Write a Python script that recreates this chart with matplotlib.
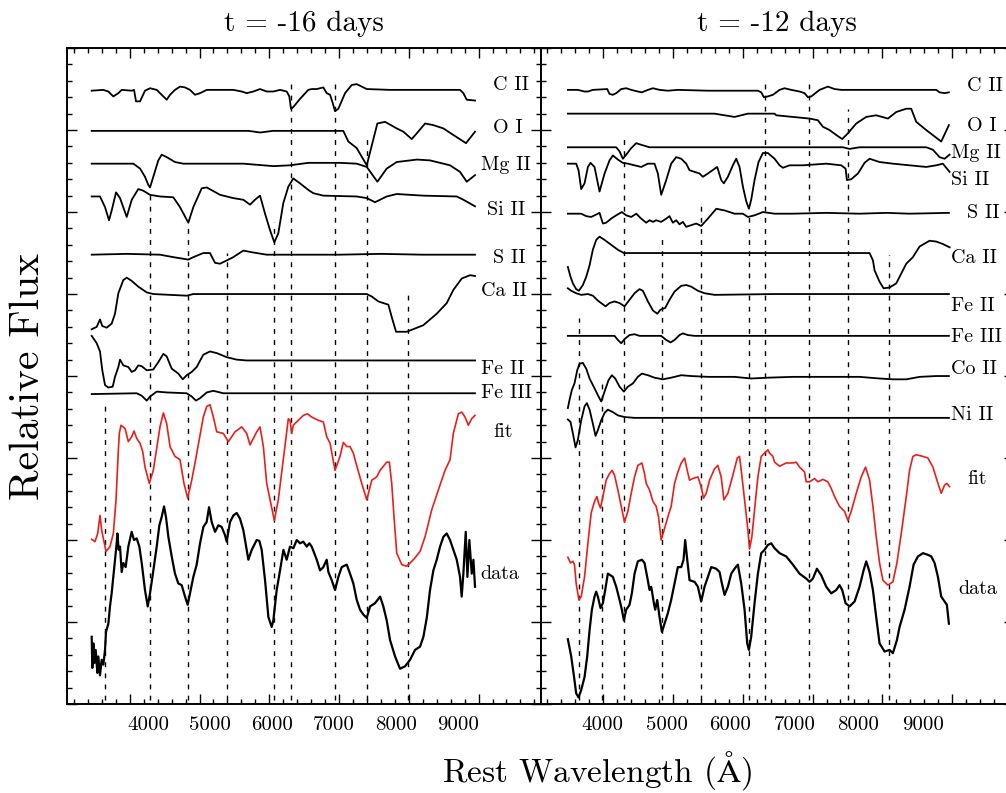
import numpy as np
import matplotlib.pyplot as plt
from matplotlib.ticker import MultipleLocator

plt.rcParams['font.family'] = ['cmr10', 'DejaVu Serif']
plt.rcParams['mathtext.fontset'] = 'cm'
plt.rcParams['axes.formatter.use_mathtext'] = True

# ---- t = -16 days : (rest wavelength [A], relative flux) ----
cii_16 = [(3454, 7.48), (3620, 7.49), (3692, 7.47), (3764, 7.41), (3836, 7.45), (3884, 7.49), (4028, 7.48),
          (4061, 7.49), (4089, 7.35), (4147, 7.35), (4218, 7.48), (4290, 7.51), (4386, 7.49), (4433, 7.45),
          (4529, 7.37), (4577, 7.43), (4648, 7.49), (4720, 7.53), (4792, 7.52), (4863, 7.49), (4935, 7.43),
          (5007, 7.45), (5103, 7.49), (5294, 7.49), (5484, 7.49), (5605, 7.47), (5676, 7.45), (5771, 7.47),
          (5867, 7.50), (5963, 7.47), (6058, 7.47), (6154, 7.49), (6250, 7.47), (6287, 7.41), (6311, 7.26),
          (6344, 7.28), (6440, 7.38), (6559, 7.49), (6608, 7.50), (6680, 7.50), (6775, 7.52), (6823, 7.45),
          (6871, 7.43), (6909, 7.33), (6942, 7.23), (6990, 7.26), (7086, 7.45), (7182, 7.55), (7253, 7.56),
          (7397, 7.50), (7731, 7.49), (8208, 7.49), (8734, 7.49), (8782, 7.45), (8830, 7.37), (8949, 7.36)]
oi_16 = [(3454, 6.99), (5700, 6.99), (5870, 6.97), (6050, 6.99), (7061, 6.99), (7133, 6.86), (7253, 6.78),
         (7397, 6.57), (7549, 7.08), (7659, 7.10), (7827, 7.02), (7922, 6.98), (8042, 6.89), (8114, 6.96),
         (8233, 7.08), (8352, 7.06), (8495, 7.02), (8638, 6.94), (8820, 6.84), (8949, 6.98)]
mgii_16 = [(3454, 6.59), (4051, 6.59), (4147, 6.53), (4218, 6.43), (4266, 6.33), (4290, 6.30), (4337, 6.43),
           (4409, 6.63), (4458, 6.70), (4529, 6.67), (4648, 6.61), (4767, 6.59), (5628, 6.59), (6058, 6.56),
           (6297, 6.57), (6559, 6.60), (7014, 6.60), (7253, 6.59), (7397, 6.55), (7549, 6.37), (7683, 6.53),
           (7827, 6.61), (8114, 6.64), (8304, 6.63), (8591, 6.57), (8734, 6.49), (8830, 6.37), (8949, 6.45)]
siii_16 = [(3454, 6.19), (3573, 6.19), (3645, 6.06), (3702, 5.90), (3741, 6.02), (3803, 6.24), (3860, 6.17),
           (3956, 5.94), (4028, 6.15), (4122, 6.28), (4194, 6.26), (4290, 6.21), (4433, 6.19), (4624, 6.18),
           (4720, 6.06), (4839, 5.87), (4911, 6.06), (5031, 6.29), (5103, 6.30), (5294, 6.21), (5484, 6.17),
           (5628, 6.15), (5724, 6.09), (5795, 6.15), (5867, 6.20), (5939, 5.98), (6010, 5.78), (6072, 5.63),
           (6129, 5.74), (6201, 6.11), (6273, 6.31), (6344, 6.41), (6440, 6.35), (6559, 6.27), (6631, 6.23),
           (6775, 6.20), (7253, 6.19), (7397, 6.17), (7516, 6.12), (7683, 6.19), (7827, 6.22), (8208, 6.20),
           (8687, 6.19), (8782, 6.15), (8949, 6.07)]
sii_16 = [(3454, 5.48), (3956, 5.49), (4433, 5.48), (4624, 5.45), (4839, 5.42), (4911, 5.45), (5054, 5.50),
          (5150, 5.50), (5222, 5.38), (5294, 5.37), (5390, 5.41), (5484, 5.45), (5628, 5.53), (5748, 5.51),
          (5963, 5.48), (7000, 5.48), (7600, 5.49), (8200, 5.48), (8949, 5.48)]
caii_16 = [(3454, 4.57), (3526, 4.60), (3573, 4.69), (3606, 4.61), (3669, 4.59), (3741, 4.64), (3788, 4.76),
           (3836, 5.01), (3907, 5.17), (3956, 5.20), (4028, 5.16), (4122, 5.09), (4243, 5.02), (4337, 5.00),
           (4816, 4.98), (4911, 5.00), (5390, 5.00), (7397, 5.00), (7469, 4.97), (7563, 4.91), (7707, 4.87),
           (7755, 4.72), (7817, 4.54), (7970, 4.54), (8208, 4.62), (8400, 4.76), (8544, 4.89), (8638, 5.05),
           (8759, 5.19), (8878, 5.23), (8949, 5.22)]
feii_16 = [(3454, 4.49), (3526, 4.40), (3573, 4.30), (3606, 4.07), (3645, 3.89), (3692, 3.86), (3755, 3.87),
           (3788, 3.99), (3836, 4.11), (3860, 4.20), (3907, 4.13), (3979, 4.11), (4028, 4.05), (4075, 4.07),
           (4122, 4.13), (4171, 4.12), (4243, 4.07), (4337, 4.08), (4409, 4.17), (4481, 4.27), (4529, 4.24),
           (4601, 4.09), (4696, 4.03), (4759, 3.96), (4816, 4.01), (4888, 4.05), (4959, 4.11), (5054, 4.26),
           (5150, 4.30), (5246, 4.28), (5390, 4.23), (5533, 4.20), (5676, 4.19), (8949, 4.19)]
feiii_16 = [(3454, 3.78), (4099, 3.79), (4171, 3.76), (4243, 3.70), (4290, 3.75), (4386, 3.81), (4529, 3.80),
            (4816, 3.79), (4888, 3.75), (4949, 3.70), (5007, 3.73), (5103, 3.80), (5198, 3.82), (5341, 3.79),
            (8949, 3.79)]
fit_16 = [(3454, 2.01), (3501, 1.98), (3540, 2.08), (3573, 2.30), (3597, 2.12), (3659, 1.86), (3716, 1.92),
          (3764, 2.08), (3803, 2.49), (3836, 3.10), (3850, 3.30), (3874, 3.40), (3932, 3.36), (3979, 3.20),
          (4028, 3.26), (4061, 3.33), (4099, 3.24), (4147, 3.18), (4185, 3.08), (4218, 2.89), (4280, 2.69),
          (4337, 2.85), (4433, 3.38), (4481, 3.55), (4529, 3.42), (4577, 3.14), (4624, 3.06), (4648, 3.02),
          (4720, 2.98), (4777, 2.69), (4830, 2.51), (4888, 2.73), (4935, 2.94), (5054, 3.50), (5103, 3.63),
          (5150, 3.65), (5198, 3.50), (5246, 3.32), (5341, 3.30), (5413, 3.20), (5509, 3.32), (5605, 3.38),
          (5676, 3.30), (5724, 3.16), (5820, 3.32), (5867, 3.38), (5915, 3.14), (5963, 2.69), (6072, 2.24),
          (6129, 2.49), (6273, 3.48), (6297, 3.46), (6321, 3.30), (6344, 3.40), (6416, 3.46), (6488, 3.52),
          (6545, 3.54), (6608, 3.50), (6703, 3.46), (6775, 3.44), (6823, 3.26), (6871, 3.18), (6942, 2.85),
          (7014, 3.02), (7061, 3.19), (7110, 3.14), (7157, 3.14), (7205, 3.06), (7229, 2.98), (7325, 2.69),
          (7397, 2.49), (7469, 2.73), (7540, 2.77), (7588, 2.85), (7683, 2.95), (7721, 2.95), (7755, 2.69),
          (7788, 2.28), (7827, 1.84), (7899, 1.70), (7970, 1.68), (8065, 1.76), (8161, 1.86), (8233, 2.04),
          (8329, 2.37), (8423, 2.61), (8519, 2.85), (8591, 2.98), (8638, 3.30), (8710, 3.54), (8759, 3.56),
          (8806, 3.50), (8853, 3.40), (8902, 3.48), (8949, 3.52)]
data_16 = [(3454, 0.82), (3463, 0.44), (3478, 0.74), (3492, 0.50), (3511, 0.66), (3535, 0.38), (3549, 0.58),
           (3573, 0.35), (3597, 0.54), (3621, 0.48), (3645, 0.66), (3659, 0.88), (3693, 0.98), (3716, 1.19),
           (3740, 1.35), (3764, 1.55), (3788, 1.76), (3812, 1.96), (3822, 2.08), (3841, 1.88), (3860, 1.92),
           (3884, 1.61), (3908, 1.72), (3941, 1.67), (3979, 1.92), (4027, 2.10), (4061, 2.00), (4099, 2.02),
           (4137, 1.92), (4171, 1.72), (4218, 1.39), (4257, 1.19), (4290, 1.35), (4338, 1.63), (4386, 1.92),
           (4424, 2.18), (4457, 2.28), (4491, 2.41), (4519, 2.28), (4553, 2.04), (4601, 1.80), (4648, 1.59),
           (4696, 1.47), (4744, 1.45), (4792, 1.31), (4830, 1.21), (4873, 1.39), (4911, 1.55), (4959, 1.70),
           (5007, 1.96), (5055, 2.16), (5102, 2.22), (5136, 2.40), (5174, 2.22), (5222, 2.10), (5270, 2.18),
           (5317, 2.16), (5365, 2.06), (5389, 1.98), (5437, 2.22), (5485, 2.30), (5533, 2.33), (5580, 2.26),
           (5628, 2.12), (5676, 1.88), (5700, 1.76), (5748, 1.88), (5819, 2.00), (5857, 1.99), (5891, 1.88),
           (5939, 1.51), (5987, 1.06), (6034, 0.94), (6058, 1.02), (6106, 1.39), (6154, 1.63), (6202, 1.88),
           (6249, 1.76), (6297, 1.92), (6345, 1.90), (6393, 2.00), (6441, 1.96), (6488, 1.98), (6536, 1.92),
           (6574, 1.96), (6608, 1.92), (6680, 1.76), (6727, 1.63), (6775, 1.67), (6823, 1.76), (6847, 1.61),
           (6895, 1.51), (6942, 1.39), (6990, 1.55), (7038, 1.67), (7110, 1.70), (7157, 1.59), (7205, 1.47),
           (7253, 1.27), (7301, 1.15), (7349, 1.09), (7397, 1.05), (7444, 1.19), (7516, 1.23), (7588, 1.31),
           (7635, 1.19), (7683, 1.02), (7731, 0.78), (7803, 0.58), (7874, 0.43), (7946, 0.46), (8018, 0.54),
           (8089, 0.66), (8161, 0.70), (8209, 0.82), (8257, 1.05), (8304, 1.39), (8352, 1.63), (8400, 1.76),
           (8448, 1.92), (8496, 2.04), (8543, 2.08), (8591, 2.00), (8639, 1.88), (8687, 1.76), (8734, 1.55),
           (8758, 1.31), (8782, 1.59), (8816, 2.10), (8840, 1.55), (8868, 2.00), (8902, 1.59), (8926, 1.76),
           (8949, 1.43)]
lines_16 = [3645, 4286, 4830, 5390, 6063, 6311, 6942, 7397, 7993]
lines_16_top = [3.67, 6.23, 5.84, 5.50, 5.88, 7.59, 7.59, 6.91, 4.99]

# ---- t = -12 days ----
cii_12 = [(3492, 7.49), (3635, 7.49), (3731, 7.47), (3779, 7.47), (3850, 7.49), (4056, 7.50), (4089, 7.44),
          (4137, 7.43), (4185, 7.45), (4257, 7.50), (4328, 7.51), (4400, 7.49), (4495, 7.47), (4553, 7.46),
          (4639, 7.49), (4711, 7.51), (4806, 7.49), (4926, 7.48), (5069, 7.49), (5499, 7.48), (5881, 7.48),
          (6216, 7.48), (6264, 7.46), (6302, 7.40), (6359, 7.41), (6431, 7.43), (6527, 7.49), (6598, 7.51),
          (6694, 7.49), (6813, 7.47), (6885, 7.45), (6933, 7.40), (6981, 7.41), (7100, 7.49), (7219, 7.53),
          (7315, 7.50), (7411, 7.49), (8773, 7.49), (8820, 7.46), (8892, 7.45), (8954, 7.46)]
oi_12 = [(3492, 7.20), (5595, 7.20), (5738, 7.18), (5881, 7.16), (5977, 7.18), (6072, 7.20), (6455, 7.20),
         (6479, 7.18), (6718, 7.16), (6957, 7.14), (7076, 7.12), (7148, 7.04), (7243, 7.00), (7339, 6.94),
         (7425, 6.89), (7506, 6.96), (7626, 7.08), (7769, 7.16), (7912, 7.18), (8080, 7.14), (8199, 7.22),
         (8342, 7.26), (8414, 7.26), (8486, 7.10), (8629, 7.00), (8844, 6.86), (8954, 7.06)]
mgii_12 = [(3492, 6.79), (4185, 6.79), (4233, 6.74), (4280, 6.65), (4328, 6.70), (4400, 6.78), (4472, 6.84),
           (4543, 6.82), (4663, 6.79), (7435, 6.79), (7530, 6.77), (7673, 6.79), (8629, 6.79), (8725, 6.76),
           (8820, 6.67), (8892, 6.65), (8964, 6.70)]
siii_12 = [(3492, 6.59), (3611, 6.59), (3645, 6.51), (3683, 6.28), (3731, 6.35), (3779, 6.55), (3817, 6.60),
           (3874, 6.55), (3912, 6.39), (3946, 6.25), (4018, 6.47), (4089, 6.63), (4137, 6.69), (4209, 6.64),
           (4280, 6.60), (4352, 6.59), (4448, 6.57), (4543, 6.55), (4639, 6.59), (4734, 6.59), (4782, 6.47),
           (4830, 6.21), (4902, 6.39), (4973, 6.59), (5045, 6.67), (5117, 6.65), (5188, 6.59), (5236, 6.51),
           (5308, 6.49), (5380, 6.47), (5427, 6.43), (5499, 6.47), (5633, 6.55), (5690, 6.39), (5728, 6.35),
           (5786, 6.43), (5857, 6.57), (5905, 6.65), (5953, 6.55), (6001, 6.31), (6049, 6.13), (6087, 6.04),
           (6120, 6.15), (6168, 6.39), (6225, 6.61), (6288, 6.72), (6359, 6.72), (6455, 6.65), (6527, 6.57),
           (6574, 6.54), (6670, 6.57), (6861, 6.57), (7196, 6.59), (7411, 6.57), (7473, 6.53), (7492, 6.39),
           (7554, 6.40), (7650, 6.47), (7745, 6.60), (7817, 6.65), (7960, 6.61), (8151, 6.59), (8390, 6.57),
           (8629, 6.55), (8773, 6.57), (8868, 6.59), (8906, 6.55), (8964, 6.49)]
sii_12 = [(3492, 5.98), (3587, 5.98), (3683, 5.98), (3755, 5.95), (3826, 5.94), (3898, 5.97), (3946, 5.99),
          (3994, 5.86), (4041, 5.87), (4113, 5.92), (4185, 5.96), (4266, 6.00), (4328, 5.96), (4400, 5.94),
          (4472, 5.98), (4543, 5.92), (4615, 5.87), (4663, 5.90), (4711, 5.88), (4758, 5.90), (4830, 5.88),
          (4902, 5.92), (4949, 5.95), (4997, 5.87), (5045, 5.90), (5093, 5.85), (5141, 5.88), (5188, 5.82),
          (5260, 5.84), (5332, 5.86), (5403, 5.83), (5499, 5.92), (5619, 6.04), (5738, 6.02), (5881, 5.98),
          (6001, 5.98), (6072, 5.94), (6168, 5.96), (6288, 6.00), (6455, 5.98), (6718, 5.98), (7196, 5.99),
          (7673, 5.98), (8056, 5.99), (8390, 5.98), (8954, 5.99)]
caii_12 = [(3492, 5.33), (3530, 5.21), (3564, 5.13), (3611, 5.06), (3650, 5.04), (3707, 5.11), (3755, 5.21),
           (3803, 5.35), (3850, 5.54), (3898, 5.66), (3946, 5.70), (4018, 5.66), (4113, 5.60), (4209, 5.54),
           (4295, 5.50), (7817, 5.50), (7865, 5.41), (7888, 5.29), (7960, 5.15), (8018, 5.07), (8104, 5.08),
           (8199, 5.13), (8271, 5.25), (8343, 5.37), (8438, 5.45), (8534, 5.58), (8677, 5.65), (8773, 5.64),
           (8868, 5.61), (8964, 5.57)]
feii_12 = [(3492, 5.07), (3540, 5.04), (3611, 5.01), (3683, 4.99), (3779, 5.00), (3850, 4.98), (3922, 4.92),
           (4032, 4.85), (4089, 4.89), (4161, 4.91), (4233, 4.89), (4304, 4.85), (4376, 4.93), (4448, 5.01),
           (4519, 5.06), (4567, 5.04), (4639, 4.91), (4711, 4.80), (4773, 4.76), (4820, 4.81), (4887, 4.83),
           (4949, 4.93), (5021, 5.03), (5117, 5.10), (5188, 5.11), (5260, 5.09), (5356, 5.04), (5451, 5.01),
           (5595, 4.99), (6455, 5.00), (8954, 5.00)]
feiii_12 = [(3492, 4.49), (4161, 4.49), (4209, 4.44), (4257, 4.40), (4304, 4.45), (4376, 4.50), (4448, 4.51),
            (4519, 4.49), (4830, 4.49), (4902, 4.44), (4964, 4.41), (5021, 4.44), (5093, 4.50), (5141, 4.52),
            (5212, 4.50), (5308, 4.49), (8954, 4.49)]
coii_12 = [(3492, 3.61), (3516, 3.71), (3549, 3.83), (3587, 3.91), (3626, 4.07), (3659, 4.15), (3707, 4.16),
           (3755, 4.09), (3803, 3.97), (3874, 3.85), (3932, 3.75), (3970, 3.69), (4018, 3.81), (4075, 3.95),
           (4123, 4.01), (4171, 3.97), (4233, 3.87), (4295, 3.81), (4352, 3.87), (4424, 3.91), (4495, 3.99),
           (4553, 4.03), (4639, 4.01), (4734, 3.98), (4854, 3.96), (4973, 3.98), (5117, 4.01), (5260, 4.00),
           (5499, 3.99), (5881, 3.99), (6120, 3.97), (6359, 3.98), (6718, 3.99), (7673, 3.99), (7960, 3.97),
           (8151, 3.96), (8343, 3.96), (8534, 3.99), (8773, 4.00), (8954, 4.00)]
niii_12 = [(3492, 3.47), (3530, 3.44), (3564, 3.30), (3602, 3.13), (3635, 3.22), (3683, 3.46), (3731, 3.63),
           (3764, 3.67), (3803, 3.59), (3850, 3.42), (3889, 3.27), (3922, 3.34), (3970, 3.46), (4018, 3.55),
           (4065, 3.59), (4137, 3.56), (4209, 3.52), (4304, 3.50), (4448, 3.49), (8954, 3.49)]
fit_12 = [(3492, 1.79), (3530, 1.72), (3564, 1.74), (3587, 1.70), (3611, 1.47), (3650, 1.27), (3683, 1.31),
          (3731, 1.55), (3779, 1.96), (3826, 2.33), (3874, 2.47), (3908, 2.53), (3932, 2.45), (3960, 2.39),
          (3994, 2.53), (4041, 2.73), (4089, 2.81), (4127, 2.85), (4161, 2.79), (4209, 2.61), (4257, 2.41),
          (4304, 2.22), (4352, 2.35), (4400, 2.57), (4448, 2.77), (4495, 2.91), (4553, 2.94), (4591, 2.81),
          (4615, 2.69), (4663, 2.61), (4711, 2.47), (4758, 2.41), (4792, 2.28), (4830, 2.00), (4878, 2.14),
          (4949, 2.35), (4973, 2.41), (5021, 2.69), (5069, 2.83), (5117, 2.94), (5165, 3.00), (5203, 2.85),
          (5236, 2.73), (5284, 2.75), (5356, 2.77), (5403, 2.65), (5437, 2.51), (5475, 2.57), (5523, 2.73),
          (5595, 2.87), (5642, 2.91), (5690, 2.77), (5728, 2.49), (5786, 2.57), (5857, 2.79), (5920, 3.00),
          (5953, 3.02), (5977, 2.85), (6025, 2.49), (6073, 2.12), (6096, 1.89), (6130, 2.04), (6168, 2.37),
          (6216, 2.77), (6264, 3.02), (6311, 3.06), (6359, 3.10), (6383, 3.06), (6431, 3.02), (6455, 2.95),
          (6527, 2.90), (6622, 2.94), (6718, 2.94), (6765, 2.95), (6813, 2.89), (6885, 2.83), (6909, 2.71),
          (6957, 2.71), (7028, 2.75), (7076, 2.71), (7148, 2.74), (7219, 2.71), (7267, 2.63), (7315, 2.53),
          (7387, 2.41), (7458, 2.35), (7506, 2.24), (7554, 2.35), (7626, 2.57), (7697, 2.77), (7759, 2.89),
          (7817, 2.73), (7865, 2.41), (7912, 2.04), (7960, 1.72), (8008, 1.51), (8080, 1.45), (8151, 1.49),
          (8209, 1.72), (8271, 2.08), (8343, 2.53), (8390, 2.85), (8438, 3.02), (8486, 3.04), (8582, 3.02),
          (8653, 3.00), (8725, 2.89), (8797, 2.69), (8844, 2.57), (8892, 2.67), (8925, 2.69), (8964, 2.65)]
data_12 = [(3492, 0.79), (3540, 0.58), (3587, 0.29), (3611, 0.13), (3645, 0.08), (3683, 0.17), (3731, 0.33),
           (3769, 0.58), (3803, 0.90), (3836, 1.15), (3874, 1.31), (3898, 1.37), (3922, 1.31), (3960, 1.17),
           (3994, 1.23), (4027, 1.39), (4065, 1.59), (4104, 1.57), (4137, 1.55), (4185, 1.43), (4233, 1.27),
           (4266, 1.15), (4295, 1.02), (4328, 1.15), (4376, 1.21), (4409, 1.35), (4448, 1.59), (4495, 1.74),
           (4553, 1.76), (4591, 1.72), (4629, 1.55), (4663, 1.39), (4687, 1.43), (4725, 1.23), (4744, 1.15),
           (4773, 1.27), (4806, 1.06), (4840, 0.88), (4878, 0.98), (4926, 1.11), (4973, 1.27), (5021, 1.47),
           (5069, 1.67), (5117, 1.67), (5150, 1.76), (5174, 2.00), (5203, 1.76), (5236, 1.51), (5308, 1.49),
           (5356, 1.43), (5403, 1.25), (5451, 1.43), (5499, 1.55), (5547, 1.67), (5619, 1.65), (5666, 1.61),
           (5700, 1.47), (5738, 1.33), (5786, 1.43), (5834, 1.59), (5881, 1.65), (5929, 1.70), (5977, 1.47),
           (6025, 1.15), (6063, 0.74), (6087, 0.66), (6120, 0.82), (6168, 1.23), (6216, 1.59), (6264, 1.84),
           (6311, 1.88), (6359, 1.94), (6407, 1.96), (6455, 1.90), (6527, 1.84), (6622, 1.80), (6718, 1.70),
           (6813, 1.59), (6909, 1.53), (6957, 1.49), (7004, 1.53), (7062, 1.65), (7124, 1.57), (7196, 1.43),
           (7267, 1.35), (7339, 1.39), (7387, 1.45), (7425, 1.39), (7473, 1.23), (7530, 1.19), (7602, 1.25),
           (7673, 1.43), (7731, 1.63), (7769, 1.74), (7817, 1.61), (7865, 1.39), (7912, 1.06), (7960, 0.74),
           (8032, 0.64), (8104, 0.66), (8151, 0.62), (8209, 0.78), (8247, 0.94), (8319, 1.15), (8390, 1.43),
           (8448, 1.70), (8510, 1.80), (8582, 1.84), (8653, 1.82), (8701, 1.80), (8749, 1.72), (8797, 1.55),
           (8844, 1.31), (8892, 1.25), (8925, 1.21), (8954, 0.98)]
lines_12 = [3645, 3975, 4294, 4845, 5394, 6082, 6311, 6942, 7506, 8094]
lines_12_top = [4.71, 3.98, 6.90, 5.72, 6.07, 5.95, 7.59, 7.59, 7.26, 5.48]

xticks = [4000, 5000, 6000, 7000, 8000, 9000]
xtick_labels = ['4000', '5000', '6000', '7000', '8000', '9000']

# where the printed tick labels sit (they do not line up with the ticks)
label_x_16 = [4261, 5150, 6039, 6928, 7817, 8706]
label_x_12 = [3989, 4906, 5824, 6742, 7659, 8577]

# label layout: (text, x, y)
labels_16 = [("C II", 9208, 7.55), ("O I", 9212, 7.03), ("Mg II", 9031, 6.57), ("Si II", 9117, 6.02),
             ("S II", 9212, 5.44), ("Ca II", 9031, 5.04), ("Fe II", 9031, 4.09), ("Fe III", 9031, 3.79),
             ("fit", 9212, 3.32), ("data", 9021, 1.59)]
labels_12 = [("C II", 9212, 7.54), ("O I", 9212, 7.05), ("Mg II", 8988, 6.72), ("Si II", 8988, 6.39),
             ("S II", 9212, 5.99), ("Ca II", 8988, 5.44), ("Fe II", 8988, 4.85), ("Fe III", 8988, 4.47),
             ("Co II", 8988, 4.09), ("Ni II", 8988, 3.52), ("fit", 9212, 2.74), ("data", 9083, 1.40)]

fig = plt.figure(figsize=(10.06, 7.93), dpi=100)
ax1 = fig.add_axes([0.0666, 0.1122, 0.4707, 0.8272])
ax2 = fig.add_axes([0.5373, 0.1122, 0.4707, 0.8272])


def panel(ax, curves, fit, data, lines, tops, labels, lab_x, title):
    for x, top in zip(lines, tops):
        ax.plot([x, x], [0.05, top], color='black', lw=1.0, ls=(0, (3.5, 4.5)), zorder=1)
    for c in curves:
        w, f = np.array(c).T
        ax.plot(w, f, color='black', lw=1.3, zorder=2)
    w, f = np.array(fit).T
    ax.plot(w, f, color='#e8201a', lw=1.2, zorder=2)
    w, f = np.array(data).T
    ax.plot(w, f, color='black', lw=1.6, zorder=2)
    for txt, x, y in labels:
        ax.text(x, y, txt, fontsize=14.5, ha='left', va='center', clip_on=False)
    for txt, x in zip(xtick_labels, lab_x):
        ax.text(x, -0.26, txt, fontsize=15, ha='center', va='center', clip_on=False)
    ax.set_xlim(3100, 9888)
    ax.set_ylim(0, 8)
    ax.set_xticks(xticks)
    ax.xaxis.set_minor_locator(MultipleLocator(200))
    ax.yaxis.set_major_locator(MultipleLocator(1))
    ax.yaxis.set_minor_locator(MultipleLocator(0.2))
    ax.tick_params(which='both', direction='in', top=True, right=True, width=1.0,
                   labelleft=False, labelbottom=False)
    ax.tick_params(which='major', length=7.5)
    ax.tick_params(which='minor', length=3.8)
    for s in ax.spines.values():
        s.set_linewidth(1.4)
    ax.set_title(title, fontsize=21, pad=12)


panel(ax1, [cii_16, oi_16, mgii_16, siii_16, sii_16, caii_16, feii_16, feiii_16],
      fit_16, data_16, lines_16, lines_16_top, labels_16, label_x_16, 't = -16 days')
panel(ax2, [cii_12, oi_12, mgii_12, siii_12, sii_12, caii_12, feii_12, feiii_12, coii_12, niii_12],
      fit_12, data_12, lines_12, lines_12_top, labels_12, label_x_12, 't = -12 days')

fig.text(597 / 1006, 1 - 771 / 793, r'Rest Wavelength ($\mathrm{\AA}$)', fontsize=24,
         ha='center', va='center')
fig.text(28 / 1006, 1 - 376 / 793, 'Relative Flux', fontsize=30, rotation=90,
         ha='center', va='center')

fig.savefig('out.png', dpi=100)
